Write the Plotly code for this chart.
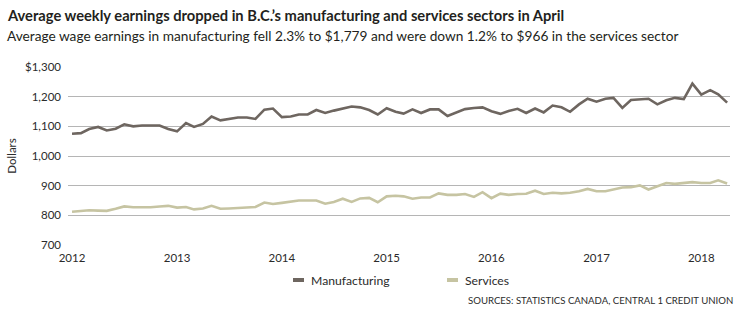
import pandas as pd
import plotly.graph_objects as go

# Monthly average weekly earnings, B.C., January 2012 to April 2018
months = pd.date_range("2012-01-01", "2018-04-01", freq="MS")

manufacturing = [
    1075, 1077, 1091, 1098, 1086, 1092, 1107, 1100, 1103, 1103, 1103, 1091,  # 2012
    1083, 1111, 1098, 1108, 1133, 1120, 1125, 1130, 1130, 1125, 1156, 1160,  # 2013
    1131, 1133, 1140, 1140, 1155, 1145, 1153, 1161, 1167, 1164, 1155, 1140,  # 2014
    1161, 1149, 1143, 1157, 1145, 1157, 1157, 1135, 1148, 1158, 1162, 1164,  # 2015
    1151, 1142, 1152, 1159, 1145, 1160, 1147, 1170, 1164, 1149, 1174, 1193,  # 2016
    1183, 1193, 1196, 1162, 1189, 1190, 1193, 1174, 1188, 1196, 1192, 1244,  # 2017
    1207, 1222, 1208, 1180,                                                  # 2018
]

services = [
    812, 814, 817, 816, 815, 822, 830, 827, 826, 827, 830, 832,  # 2012
    826, 828, 820, 823, 832, 822, 823, 825, 826, 828, 843, 838,  # 2013
    842, 847, 850, 850, 850, 839, 845, 856, 845, 857, 859, 844,  # 2014
    864, 866, 864, 856, 860, 860, 874, 869, 869, 872, 862, 878,  # 2015
    858, 873, 869, 872, 873, 883, 872, 876, 874, 876, 881, 889,  # 2016
    881, 881, 887, 894, 895, 901, 887, 898, 909, 906, 909, 912,  # 2017
    909, 909, 918, 907,                                          # 2018
]

series_names = ["Manufacturing", "Services"]
series_colors = ["#6e6660", "#c6c4a2"]

y_ticks = [700, 800, 900, 1000, 1100, 1200, 1300]
y_tick_text = ["700", "800", "900", "1,000", "1,100", "1,200", "$1,300"]
x_ticks = pd.to_datetime([f"{y}-01-01" for y in range(2012, 2019)])
x_tick_text = [str(y) for y in range(2012, 2019)]

title = "Average weekly earnings dropped in B.C.’s manufacturing and services sectors in April"
subtitle = ("Average wage earnings in manufacturing fell 2.3% to $1,779 and were down "
            "1.2% to $966 in the services sector")
source = "SOURCES: STATISTICS CANADA, CENTRAL 1 CREDIT UNION"

FONT = "Lato, Roboto, sans-serif"
TEXT = "#2b2b2b"

# plot area in pixels: x 68..730, y 67..245
PL, PR, PT, PB = 68, 730, 67, 245
PW, PH = PR - PL, PB - PT


def px_x(x):
    return (x - PL) / PW


def px_y(y):
    return (PB - y) / PH


fig = go.Figure()
for name, vals, col in zip(series_names, [manufacturing, services], series_colors):
    fig.add_trace(go.Scatter(
        x=months, y=vals, name=name, mode="lines",
        line=dict(color=col, width=2.6),
        showlegend=False, hoverinfo="x+y",
    ))

fig.update_layout(
    width=750, height=328,
    margin=dict(l=PL, r=750 - PR, t=PT, b=328 - PB),
    paper_bgcolor="white", plot_bgcolor="white",
    font=dict(family=FONT, color=TEXT, size=12),
    xaxis=dict(
        range=[pd.Timestamp("2011-12-18"), pd.Timestamp("2018-04-11")],
        tickvals=x_ticks, ticktext=x_tick_text,
        showgrid=False, zeroline=False, showline=False,
        ticks="", ticklabelstandoff=4,
        tickfont=dict(size=11.5, color=TEXT),
    ),
    yaxis=dict(
        range=[700, 1300],
        tickvals=y_ticks, ticktext=y_tick_text,
        showgrid=True, gridcolor="#b5b5b5", gridwidth=1,
        zeroline=False, showline=False, ticks="",
        ticklabelstandoff=6,
        tickfont=dict(size=11.5, color=TEXT),
        title=dict(text="Dollars", font=dict(size=11.5, color=TEXT), standoff=6),
    ),
)

# Header text
fig.add_annotation(
    text=f"<b>{title}</b>", xref="paper", yref="paper",
    x=px_x(5), y=px_y(15), xanchor="left", yanchor="middle",
    showarrow=False, font=dict(size=14.7, color="#231f20", family=FONT),
)
fig.add_annotation(
    text=subtitle, xref="paper", yref="paper",
    x=px_x(5), y=px_y(35), xanchor="left", yanchor="middle",
    showarrow=False, font=dict(size=13.7, color="#231f20", family=FONT),
)

# Legend drawn below the plot: short swatch + label
legend_items = [(293, 309), (447, 463)]
for (sx, tx), name, col in zip(legend_items, series_names, series_colors):
    fig.add_shape(
        type="line", xref="paper", yref="paper",
        x0=px_x(sx), x1=px_x(sx + 11), y0=px_y(280), y1=px_y(280),
        line=dict(color=col, width=4),
    )
    fig.add_annotation(
        text=name, xref="paper", yref="paper",
        x=px_x(tx), y=px_y(280),
        xanchor="left", yanchor="middle", showarrow=False,
        font=dict(size=12.2, color=TEXT, family=FONT),
    )

fig.add_annotation(
    text=source, xref="paper", yref="paper",
    x=px_x(735), y=px_y(300),
    xanchor="right", yanchor="middle", showarrow=False,
    font=dict(size=9.6, color=TEXT, family=FONT),
)

fig.write_html("out.html")
